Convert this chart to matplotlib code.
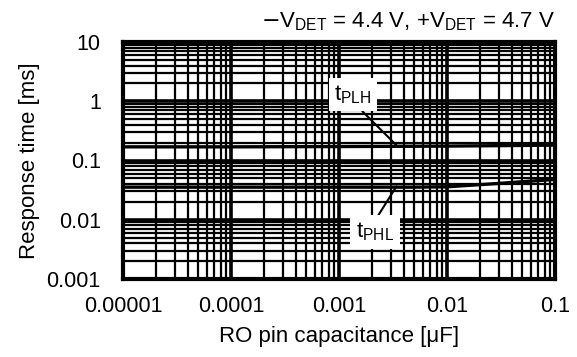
import matplotlib
matplotlib.use('Agg')
import matplotlib.pyplot as plt
from matplotlib.ticker import FixedLocator, LogLocator, NullFormatter

plt.rcParams['font.family'] = ['Liberation Sans', 'DejaVu Sans']

# RO pin capacitance [uF] vs response time [ms]
cap = [0.00001, 0.0001, 0.001, 0.005, 0.01, 0.03, 0.1]
t_plh = [0.17, 0.17, 0.172, 0.174, 0.175, 0.178, 0.182]
t_phl = [0.0355, 0.0355, 0.0355, 0.0355, 0.036, 0.041, 0.048]

x_ticks = [0.00001, 0.0001, 0.001, 0.01, 0.1]
x_labels = ['0.00001', '0.0001', '0.001', '0.01', '0.1']
y_ticks = [0.001, 0.01, 0.1, 1, 10]
y_labels = ['0.001', '0.01', '0.1', '1', '10']

fig = plt.figure(figsize=(5.77, 3.57), dpi=100)
ax = fig.add_axes([123 / 577, 1 - 279 / 357, 432 / 577, 237 / 357])

ax.plot(cap, t_plh, color='black', lw=2.4, zorder=3)
ax.plot(cap, t_phl, color='black', lw=2.4, zorder=3)

ax.set_xscale('log')
ax.set_yscale('log')
ax.set_xlim(0.00001, 0.1)
ax.set_ylim(0.001, 10)
ax.xaxis.set_major_locator(FixedLocator(x_ticks))
ax.set_xticklabels(x_labels)
ax.yaxis.set_major_locator(FixedLocator(y_ticks))
ax.set_yticklabels(y_labels)
ax.xaxis.set_minor_locator(LogLocator(base=10, subs=range(2, 10), numticks=20))
ax.yaxis.set_minor_locator(LogLocator(base=10, subs=range(2, 10), numticks=20))
ax.xaxis.set_minor_formatter(NullFormatter())
ax.yaxis.set_minor_formatter(NullFormatter())
ax.tick_params(which='both', length=0, labelsize=15.5)
ax.tick_params(axis='y', pad=16)
ax.tick_params(axis='x', pad=12)

ax.grid(True, which='major', color='black', lw=2.6)
ax.grid(True, which='minor', color='black', lw=1.6)
for s in ax.spines.values():
    s.set_linewidth(3)

ax.set_xlabel('RO pin capacitance [μF]', fontsize=16, labelpad=7)
ax.set_ylabel('Response time [ms]', fontsize=16, labelpad=5)

ax.text(1.0, 1.063, r'$-$V$_{\mathregular{DET}}$ = 4.4 V, +V$_{\mathregular{DET}}$ = 4.7 V',
        transform=ax.transAxes, ha='right', va='baseline', fontsize=16)

box = dict(boxstyle='square,pad=0.25', fc='white', ec='none')
ax.annotate(r't$_{\mathregular{PLH}}$', xy=(0.0035, 0.172), xytext=(0.00135, 1.3),
            fontsize=16, ha='center', va='center', bbox=box,
            arrowprops=dict(arrowstyle='-', color='black', lw=1.5,
                            shrinkA=0, shrinkB=0, relpos=(0.6, 0.0)), zorder=4)
ax.annotate(r't$_{\mathregular{PHL}}$', xy=(0.0034, 0.0365), xytext=(0.00215, 0.0062),
            fontsize=16, ha='center', va='center', bbox=box,
            arrowprops=dict(arrowstyle='-', color='black', lw=1.5,
                            shrinkA=0, shrinkB=0, relpos=(0.5, 1.0)), zorder=4)

fig.savefig('out.png', dpi=100)
